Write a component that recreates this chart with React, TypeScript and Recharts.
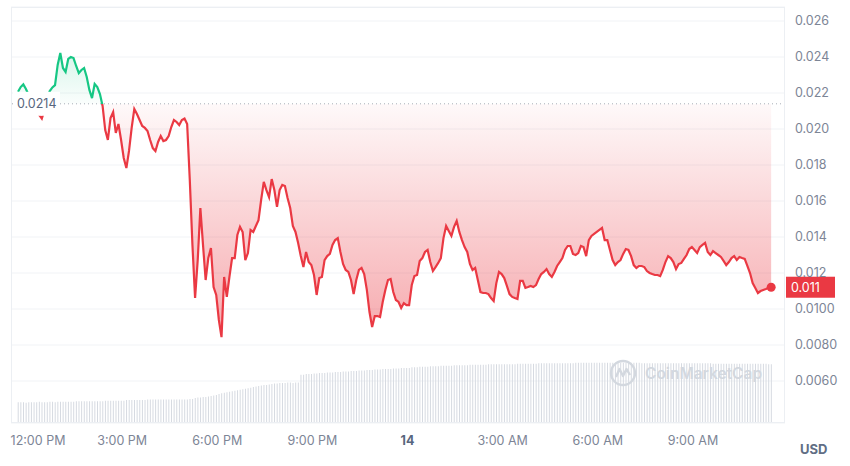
import {
  Area,
  Bar,
  CartesianGrid,
  ComposedChart,
  Line,
  ReferenceDot,
  ReferenceLine,
  XAxis,
  YAxis,
} from "recharts";

// 5-minute samples, first one at 11:43 AM (minutes relative to 12:00 PM)
const START_MIN = -17;
const STEP_MIN = 5;

const PRICE = [
  0.02207, 0.02233, 0.02248, 0.02222, 0.02189, 0.02156, 0.02128, 0.02106, 0.02078, 0.02058,
  0.02106, 0.02172, 0.02211, 0.02231, 0.02244, 0.02356, 0.02422, 0.02339, 0.02317, 0.02389,
  0.024, 0.02394, 0.0235, 0.02311, 0.02328, 0.02339, 0.02289, 0.02217, 0.02172, 0.0225,
  0.02233, 0.02194, 0.02128, 0.01994, 0.01939, 0.02061, 0.02094, 0.01978, 0.02028, 0.01939,
  0.01839, 0.01783, 0.01878, 0.02006, 0.02111, 0.02083, 0.0205, 0.02017, 0.02006, 0.01989,
  0.01939, 0.01894, 0.01878, 0.01928, 0.01961, 0.01933, 0.01939, 0.01961, 0.02011, 0.0205,
  0.02039, 0.02022, 0.0205, 0.02058, 0.02028, 0.01717, 0.01356, 0.01061, 0.01272, 0.01561,
  0.01356, 0.01161, 0.01283, 0.01339, 0.01122, 0.01078, 0.00939, 0.00844, 0.01178, 0.01067,
  0.01178, 0.01283, 0.01283, 0.01411, 0.01456, 0.01428, 0.01272, 0.01311, 0.01439, 0.01428,
  0.01461, 0.01494, 0.01606, 0.01706, 0.01661, 0.01622, 0.01722, 0.01661, 0.01567, 0.01661,
  0.01689, 0.01683, 0.01617, 0.01561, 0.01461, 0.01428, 0.01367, 0.01294, 0.01233, 0.01317,
  0.01261, 0.01244, 0.01189, 0.01078, 0.01172, 0.01178, 0.01272, 0.01294, 0.01306, 0.01356,
  0.01383, 0.01394, 0.01317, 0.0125, 0.01217, 0.01206, 0.01161, 0.01083, 0.01161, 0.01217,
  0.01228, 0.01194, 0.01106, 0.00983, 0.009, 0.00961, 0.00961, 0.00956, 0.01039, 0.01106,
  0.01161, 0.01167, 0.01094, 0.0105, 0.01039, 0.01006, 0.01033, 0.01022, 0.01022, 0.01133,
  0.01183, 0.01189, 0.01267, 0.01283, 0.01317, 0.01328, 0.01261, 0.01211, 0.01233, 0.01256,
  0.01283, 0.01394, 0.01461, 0.01433, 0.01406, 0.01456, 0.01489, 0.01428, 0.01383, 0.01344,
  0.01317, 0.0125, 0.01217, 0.01228, 0.01161, 0.01094, 0.01089, 0.01089, 0.01083, 0.01061,
  0.01044, 0.01144, 0.01206, 0.01194, 0.01172, 0.01128, 0.01083, 0.01067, 0.01061, 0.01056,
  0.01156, 0.01156, 0.01117, 0.01122, 0.01128, 0.01122, 0.01133, 0.01167, 0.01194, 0.01206,
  0.01222, 0.01194, 0.01178, 0.01206, 0.01239, 0.01261, 0.01283, 0.01328, 0.0135, 0.0135,
  0.01306, 0.013, 0.01311, 0.0135, 0.01344, 0.01294, 0.01383, 0.01406, 0.01417, 0.01428,
  0.01439, 0.0145, 0.01383, 0.01383, 0.01328, 0.01272, 0.01244, 0.01261, 0.01272, 0.01306,
  0.01333, 0.01328, 0.01294, 0.01244, 0.01228, 0.01239, 0.01239, 0.01233, 0.01211, 0.012,
  0.01194, 0.01189, 0.01189, 0.01183, 0.01217, 0.01261, 0.01294, 0.01283, 0.01261, 0.01222,
  0.0125, 0.01256, 0.01278, 0.013, 0.01333, 0.01344, 0.01328, 0.01311, 0.01344, 0.01356,
  0.01367, 0.01317, 0.013, 0.01322, 0.01311, 0.013, 0.01289, 0.01267, 0.01244, 0.01261,
  0.01283, 0.01294, 0.01272, 0.01289, 0.01283, 0.01278, 0.01239, 0.012, 0.01144, 0.01117,
  0.01089, 0.011, 0.01106, 0.01111, 0.01117, 0.01121,
];

// volume, millions USD
const VOLUME = [
  0.4, 0.4, 0.4, 0.39, 0.4, 0.4, 0.4, 0.4, 0.41, 0.4,
  0.4, 0.4, 0.41, 0.41, 0.4, 0.41, 0.41, 0.41, 0.41, 0.41,
  0.41, 0.41, 0.42, 0.42, 0.42, 0.42, 0.42, 0.42, 0.42, 0.42,
  0.42, 0.42, 0.42, 0.43, 0.43, 0.43, 0.43, 0.43, 0.43, 0.43,
  0.43, 0.44, 0.44, 0.44, 0.44, 0.44, 0.44, 0.44, 0.44, 0.45,
  0.45, 0.45, 0.45, 0.45, 0.45, 0.45, 0.45, 0.45, 0.45, 0.45,
  0.45, 0.45, 0.45, 0.45, 0.45, 0.46, 0.46, 0.48, 0.49, 0.49,
  0.5, 0.5, 0.51, 0.52, 0.53, 0.54, 0.56, 0.57, 0.58, 0.59,
  0.6, 0.61, 0.62, 0.63, 0.64, 0.65, 0.66, 0.67, 0.68, 0.69,
  0.7, 0.71, 0.72, 0.73, 0.73, 0.74, 0.75, 0.76, 0.76, 0.77,
  0.77, 0.77, 0.78, 0.78, 0.77, 0.78, 0.78, 0.93, 0.93, 0.94,
  0.94, 0.94, 0.95, 0.95, 0.96, 0.96, 0.96, 0.97, 0.97, 0.97,
  0.98, 0.98, 0.98, 0.99, 0.99, 0.99, 1.0, 1.0, 1.0, 1.01,
  1.01, 1.01, 1.02, 1.02, 1.02, 1.03, 1.03, 1.03, 1.04, 1.04,
  1.04, 1.04, 1.05, 1.05, 1.05, 1.06, 1.06, 1.06, 1.06, 1.07,
  1.07, 1.07, 1.08, 1.08, 1.08, 1.08, 1.09, 1.09, 1.09, 1.09,
  1.1, 1.1, 1.1, 1.1, 1.1, 1.11, 1.11, 1.11, 1.11, 1.11,
  1.11, 1.12, 1.12, 1.12, 1.12, 1.12, 1.12, 1.12, 1.13, 1.13,
  1.13, 1.13, 1.13, 1.13, 1.13, 1.13, 1.13, 1.13, 1.13, 1.14,
  1.14, 1.14, 1.14, 1.14, 1.14, 1.14, 1.14, 1.15, 1.15, 1.15,
  1.15, 1.15, 1.15, 1.15, 1.15, 1.15, 1.15, 1.15, 1.15, 1.15,
  1.15, 1.16, 1.16, 1.16, 1.16, 1.16, 1.16, 1.16, 1.16, 1.16,
  1.16, 1.16, 1.16, 1.16, 1.16, 1.16, 1.16, 1.16, 1.16, 1.16,
  1.16, 1.16, 1.16, 1.16, 1.16, 1.16, 1.15, 1.15, 1.15, 1.15,
  1.15, 1.15, 1.15, 1.15, 1.15, 1.15, 1.15, 1.15, 1.15, 1.15,
  1.15, 1.15, 1.15, 1.15, 1.15, 1.15, 1.15, 1.15, 1.15, 1.15,
  1.15, 1.15, 1.15, 1.14, 1.14, 1.14, 1.14, 1.14, 1.14, 1.14,
  1.14, 1.14, 1.14, 1.14, 1.14, 1.14, 1.14, 1.14, 1.14, 1.14,
  1.14, 1.14, 1.14, 1.14, 1.13, 1.13,
];

const BASE_PRICE = 0.0214;
const BASE_LABEL = "0.0214";
const LAST_LABEL = "0.011";

const X_TICKS = [0, 180, 360, 540, 720, 900, 1080, 1260];
const X_LABELS = ["12:00 PM", "3:00 PM", "6:00 PM", "9:00 PM", "14", "3:00 AM", "6:00 AM", "9:00 AM"];
const Y_TICKS = [0.006, 0.008, 0.01, 0.012, 0.014, 0.016, 0.018, 0.02, 0.022, 0.024, 0.026];
const Y_LABELS = ["0.0060", "0.0080", "0.0100", "0.012", "0.014", "0.016", "0.018", "0.020", "0.022", "0.024", "0.026"];

const X_DOMAIN = [-30.3, 1434.2];
const Y_DOMAIN = [0.003667, 0.026778];
const VOL_DOMAIN = [0, 8];

const W = 850;
const H = 466;
const MARGIN = { top: 7, right: 0, bottom: 0, left: 11 };
const Y_AXIS_W = 65;
const X_AXIS_H = 43;
const PLOT_RIGHT = W - Y_AXIS_W;
const PLOT_TOP = MARGIN.top;
const PLOT_H = H - MARGIN.top - X_AXIS_H;

const GREEN = "#16c784";
const RED = "#ea3943";
const FONT = "Inter, 'Noto Sans', sans-serif";

const data = PRICE.map((p, i) => ({
  t: START_MIN + i * STEP_MIN,
  price: p,
  band: [BASE_PRICE, p],
  vol: VOLUME[i],
}));
const last = data[data.length - 1];
const baseOffset = (Y_DOMAIN[1] - BASE_PRICE) / (Y_DOMAIN[1] - Y_DOMAIN[0]);

function XTick({ x, payload }: any) {
  const label = X_LABELS[X_TICKS.indexOf(payload.value)] ?? "";
  const bold = label === "14";
  return (
    <text
      x={Math.max(x, MARGIN.left + 27)}
      y={PLOT_TOP + PLOT_H + 17}
      textAnchor="middle"
      dominantBaseline="central"
      fontSize={12.5}
      fontFamily={FONT}
      fontWeight={bold ? 700 : 400}
      fill={bold ? "#58667e" : "#7d8596"}
    >
      {label}
    </text>
  );
}

function YTick({ y, payload }: any) {
  const idx = Y_TICKS.findIndex((v) => Math.abs(v - payload.value) < 1e-9);
  return (
    <text
      x={PLOT_RIGHT + 10}
      y={y}
      dy="0.35em"
      textAnchor="start"
      fontSize={12.5}
      fontFamily={FONT}
      fill="#7d8596"
    >
      {idx >= 0 ? Y_LABELS[idx] : ""}
    </text>
  );
}

function BaseLabel({ viewBox }: any) {
  const { x, y } = viewBox;
  return (
    <g>
      <rect x={x + 2} y={y - 12} width={47} height={24} fill="#fff" />
      <text x={x + 6} y={y} dy="0.35em" fontSize={12.5} fontFamily={FONT} fill="#58667e">
        {BASE_LABEL}
      </text>
    </g>
  );
}

function EndMarker({ cx, cy }: any) {
  return (
    <g>
      <circle cx={cx} cy={cy} r={4.5} fill={RED} />
      <rect x={PLOT_RIGHT + 1} y={cy - 10.5} width={49} height={21} fill={RED} />
      <text x={PLOT_RIGHT + 6} y={cy} dy="0.35em" fontSize={12.5} fontFamily={FONT} fill="#fff">
        {LAST_LABEL}
      </text>
    </g>
  );
}

export default function App() {
  return (
    <div style={{ position: "absolute", left: 0, top: 0, width: W, height: H, background: "#fff", fontFamily: FONT }}>
      <ComposedChart width={W} height={H} data={data} margin={MARGIN}>
        <defs>
          <linearGradient id="priceStroke" gradientUnits="userSpaceOnUse" x1="0" y1={PLOT_TOP} x2="0" y2={PLOT_TOP + PLOT_H}>
            <stop offset={baseOffset} stopColor={GREEN} />
            <stop offset={baseOffset} stopColor={RED} />
          </linearGradient>
          <linearGradient id="priceFill" gradientUnits="userSpaceOnUse" x1="0" y1={PLOT_TOP} x2="0" y2={PLOT_TOP + PLOT_H}>
            <stop offset={0} stopColor={GREEN} stopOpacity={0.3} />
            <stop offset={baseOffset} stopColor={GREEN} stopOpacity={0.02} />
            <stop offset={baseOffset} stopColor={RED} stopOpacity={0.03} />
            <stop offset={1} stopColor={RED} stopOpacity={0.58} />
          </linearGradient>
        </defs>
        <CartesianGrid yAxisId="price" vertical={false} stroke="#f1f3f6" />
        <XAxis
          dataKey="t"
          type="number"
          domain={X_DOMAIN}
          ticks={X_TICKS}
          interval={0}
          allowDataOverflow
          axisLine={false}
          tickLine={false}
          height={X_AXIS_H}
          tick={<XTick />}
        />
        <YAxis
          yAxisId="price"
          orientation="right"
          domain={Y_DOMAIN}
          ticks={Y_TICKS}
          interval={0}
          allowDataOverflow
          axisLine={false}
          tickLine={false}
          width={Y_AXIS_W}
          tick={<YTick />}
        />
        <YAxis yAxisId="vol" hide domain={VOL_DOMAIN} />
        <Bar yAxisId="vol" dataKey="vol" fill="#d6dae1" barSize={1} isAnimationActive={false} />
        <Area
          yAxisId="price"
          dataKey="band"
          type="linear"
          stroke="none"
          fill="url(#priceFill)"
          fillOpacity={1}
          isAnimationActive={false}
        />
        <Line
          yAxisId="price"
          dataKey="price"
          type="linear"
          stroke="url(#priceStroke)"
          strokeWidth={2.2}
          dot={false}
          isAnimationActive={false}
        />
        <ReferenceLine
          yAxisId="price"
          y={BASE_PRICE}
          stroke="#a9aeb7"
          strokeDasharray="1 3"
          label={<BaseLabel />}
        />
        <ReferenceDot yAxisId="price" x={last.t} y={last.price} shape={(p: any) => <EndMarker {...p} />} />
      </ComposedChart>
      <div
        style={{
          position: "absolute",
          left: MARGIN.left,
          top: PLOT_TOP,
          width: PLOT_RIGHT - MARGIN.left,
          height: PLOT_H,
          border: "1px solid #eceff3",
          boxSizing: "border-box",
          pointerEvents: "none",
        }}
      />
      <div
        style={{
          position: "absolute",
          left: 609,
          top: 359,
          display: "flex",
          alignItems: "center",
          gap: 8,
          color: "#d3d8df",
          fontSize: 15.5,
          fontWeight: 600,
          pointerEvents: "none",
        }}
      >
        <svg width={28} height={28} viewBox="0 0 28 28">
          <circle cx={14} cy={14} r={12} fill="none" stroke="#d3d8df" strokeWidth={2.4} />
          <polyline points="7,18 10.5,10 14,17 17.5,10 21,16" fill="none" stroke="#d3d8df" strokeWidth={2.4} strokeLinejoin="round" />
        </svg>
        <span>CoinMarketCap</span>
      </div>
      <div
        style={{
          position: "absolute",
          left: 800,
          top: 441,
          fontSize: 13,
          fontWeight: 700,
          color: "#616e85",
        }}
      >
        USD
      </div>
    </div>
  );
}
